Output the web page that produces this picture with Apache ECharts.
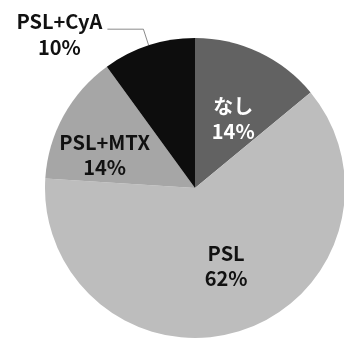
<!DOCTYPE html>
<html>
<head>
<meta charset="utf-8">
<script src="https://cdn.jsdelivr.net/npm/echarts@6/dist/echarts.min.js"></script>
<style>
  html, body { margin: 0; padding: 0; background: #fff; }
  #chart { width: 344px; height: 353px; }
</style>
</head>
<body>
<div id="chart"></div>
<script>
// Treatment breakdown (percent of patients)
const categories = ['なし', 'PSL', 'PSL+MTX', 'PSL+CyA'];
const shares = [14, 62, 14, 10];
const sliceColors = ['#626262', '#bdbdbd', '#a6a6a6', '#0d0d0d'];
const labelColors = ['#ffffff', '#111111', '#111111', '#111111'];

// nudges for the labels, in pixels
const labelNudge = [[5, 1], [7, 4], [-22, 4], [0, 5]];

const FONT = '"Noto Sans CJK JP", "Noto Sans", sans-serif';

const data = categories.map((name, i) => {
  const item = {
    name: name,
    value: shares[i],
    itemStyle: { color: sliceColors[i] },
    label: { color: labelColors[i] }
  };
  if (i === 3) {
    item.label = {
      position: 'outside',
      formatter: '{n|{b}}\n{p|{c}%}',
      rich: {
        n: { fontFamily: FONT, fontSize: 20, fontWeight: 'bold', color: '#111', lineHeight: 26, align: 'center' },
        p: { fontFamily: FONT, fontSize: 20, fontWeight: 'bold', color: '#111', lineHeight: 26, align: 'center' }
      }
    };
    item.labelLine = {
      show: true,
      length: 17,
      length2: 36,
      lineStyle: { color: '#8a8a8a', width: 1 }
    };
  }
  return item;
});

const chart = echarts.init(document.getElementById('chart'), null, { renderer: 'canvas' });
chart.setOption({
  animation: false,
  backgroundColor: '#ffffff',
  series: [{
    type: 'pie',
    center: [195, 188],
    radius: [0, 150],
    startAngle: 90,
    clockwise: true,
    avoidLabelOverlap: false,
    label: {
      show: true,
      position: 'inside',
      formatter: '{b}\n{c}%',
      fontFamily: FONT,
      fontSize: 20,
      fontWeight: 'bold',
      lineHeight: 25
    },
    labelLine: { show: false },
    labelLayout: function (params) {
      const n = labelNudge[params.dataIndex];
      return n ? { dx: n[0], dy: n[1] } : {};
    },
    data: data
  }]
});
</script>
</body>
</html>
